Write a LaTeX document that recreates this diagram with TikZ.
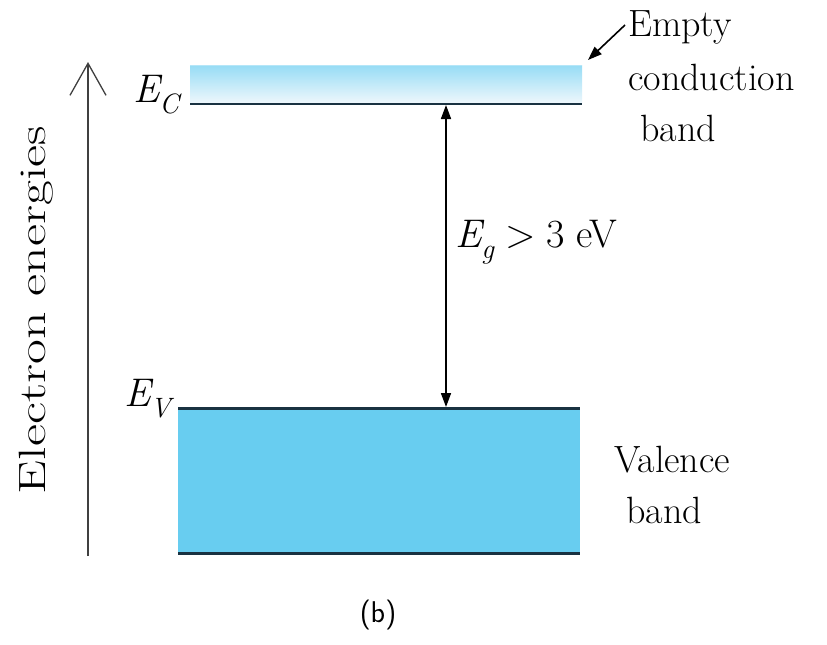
\documentclass[tikz,border=0pt]{standalone}
\usetikzlibrary{arrows.meta}
\definecolor{valfill}{RGB}{104,205,240}
\definecolor{contop}{RGB}{150,220,245}
\definecolor{conbot}{RGB}{238,247,252}
\definecolor{edge}{RGB}{25,50,65}
\newcommand{\symE}[1]{\textit{E}\kern-3pt\raisebox{-11pt}{\fontsize{28}{32}\selectfont\textit{#1}}}
\begin{document}
\begin{tikzpicture}[x=1pt,y=-1pt,
  lbl/.style={inner sep=0pt, font=\fontsize{38}{46}\selectfont},
  sym/.style={inner sep=0pt, font=\fontsize{40}{46}\selectfont},
  edgeline/.style={draw=edge, line width=3pt},
  gaparrow/.style={line width=1.6pt, {Triangle[length=14pt,width=10pt]}-{Triangle[length=14pt,width=10pt]}}]
\useasboundingbox (0,0) rectangle (827,645);
% conduction band
\shade[top color=contop, bottom color=conbot] (190,65) rectangle (582,103);
\draw[line width=0.6pt, draw=contop!70!white] (190,65) -- (582,65);
\coordinate (ecl) at (190,104);
\coordinate (ecr) at (582,104);
\draw[edgeline, line width=2.4pt] (ecl) -- (ecr);
% valence band
\fill[valfill] (178,408) rectangle (580,553);
\coordinate (evl) at (178,408);
\coordinate (evr) at (580,408);
\coordinate (ebl) at (178,553);
\coordinate (ebr) at (580,553);
\draw[edgeline] (evl) -- (evr);
\draw[edgeline] (ebl) -- (ebr);
% energy axis
\coordinate (axb) at (88,556);
\coordinate (axt) at (88,62);
\draw[line width=1.3pt, draw=black!75, -{Straight Barb[length=32pt,width=36pt,line width=1.3pt]}] (axb) -- (axt);
\node[lbl, rotate=90] (elab) at (36,310) {\scalebox{1.42}[1]{Electron energies}};
% gap arrow
\coordinate (gt) at (446,105);
\coordinate (gb) at (446,407);
\draw[gaparrow] (gb) -- (gt);
\node[sym, anchor=base west] (eg) at (455,247) {\symE{g}\hspace{11pt}>\hspace{10pt}3 eV};
% labels
\node[sym, anchor=base west] (ec) at (133,102) {\symE{C}};
\node[sym, anchor=base west] (ev) at (124,406) {\symE{V}};
\node[lbl, anchor=west] (emp1) at (628,27) {Empty};
\node[lbl, anchor=west] (emp2) at (628,77) {conduction};
\node[lbl, anchor=west] (emp3) at (640,128) {band};
\coordinate (ea) at (588,60);
\draw[line width=1.6pt, -{Triangle[length=14pt,width=10pt]}] (emp1.west) ++(-3,-2) -- (ea);
\node[lbl, anchor=west] (val1) at (614,460) {Valence};
\node[lbl, anchor=west] (val2) at (626,510) {band};
\node[inner sep=0pt, font=\sffamily\fontsize{30}{36}\selectfont] (cap) at (378,615) {(b)};
\end{tikzpicture}
\end{document}
